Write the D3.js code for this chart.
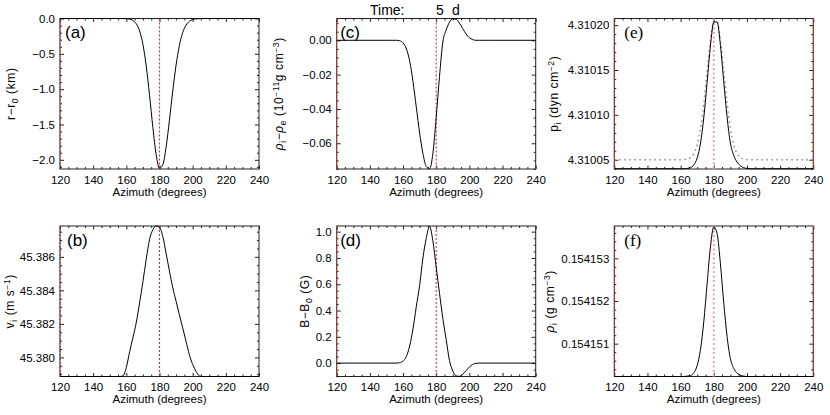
<!DOCTYPE html>
<html><head><meta charset="utf-8">
<script src="https://cdn.jsdelivr.net/npm/d3@7"></script>
<style>
body{margin:0;background:#fff}
text{font-family:"Liberation Sans",Arial,sans-serif;fill:#000}
</style>
</head><body>
<svg id="chart" width="830" height="415"></svg>
<script>
// ---- data ----
const azimuth = [120,150,156,158,160,162,164,166,168,170,172,174,176,178,180,182,184,186,188,190,192,194,196,198,200,202,204,206,208,212,240];
// (a) r - r0 (km)
const radiusChange = [0,0,0,-0.001,-0.003,-0.009,-0.028,-0.075,-0.177,-0.366,-0.673,-1.086,-1.542,-1.928,-2.12,-2.069,-1.817,-1.438,-1.025,-0.658,-0.381,-0.199,-0.094,-0.040,-0.015,-0.005,-0.002,0,0,0,0];
// (b) v_i (m/s)
const velocity = [45.37886,45.37886,45.37886,45.37890,45.37940,45.38034,45.38119,45.38209,45.38326,45.38452,45.38586,45.38704,45.38762,45.38784,45.38776,45.38722,45.38620,45.38515,45.38416,45.38335,45.38254,45.38176,45.38096,45.38016,45.37958,45.37917,45.37890,45.37886,45.37886,45.37886,45.37886];
// (c) rho_i - rho_e (1e-11 g cm^-3)
const densityDiff = [0,0,0,-0.0003,-0.0015,-0.005,-0.012,-0.024,-0.039,-0.054,-0.066,-0.0735,-0.0748,-0.066,-0.045,-0.021,-0.001,0.006,0.0105,0.0125,0.0123,0.0100,0.0068,0.0037,0.0015,0.0004,0,0,0,0,0];
// (d) B - B0 (G)
const fieldChange = [0,0,0,0.003,0.015,0.05,0.13,0.26,0.43,0.59,0.80,0.95,1.04,0.93,0.73,0.53,0.34,0.18,0.02,-0.06,-0.097,-0.101,-0.085,-0.058,-0.030,-0.010,-0.002,0,0,0,0];
// (e) p_i (dyn cm^-2), solid and dotted reference
const pressure = [4.31004,4.31004,4.31004,4.31004,4.31004,4.31004,4.3100403,4.3100413,4.3100443,4.3100521,4.3100687,4.3100976,4.3101370,4.3101774,4.3102035,4.3102035,4.3101774,4.3101370,4.3100976,4.3100687,4.310055,4.3100475,4.3100433,4.3100412,4.3100403,4.31004,4.31004,4.31004,4.31004,4.31004,4.31004];
const pressureRef = [4.31005,4.31005,4.31005,4.31005,4.31005,4.3100502,4.3100508,4.3100524,4.3100569,4.3100668,4.3100851,4.3101134,4.3101489,4.3101830,4.3102042,4.3102042,4.3101830,4.3101489,4.3101134,4.3100851,4.3100668,4.3100569,4.3100524,4.3100508,4.3100502,4.31005,4.31005,4.31005,4.31005,4.31005,4.31005];
// (f) rho_i (g cm^-3)
const density = [0.15415023,0.15415023,0.15415023,0.15415023,0.15415023,0.15415023,0.15415024,0.15415025,0.15415032,0.15415049,0.15415087,0.15415153,0.15415242,0.15415328,0.15415374,0.15415358,0.15415287,0.15415196,0.15415117,0.15415065,0.15415042,0.15415031,0.15415026,0.15415024,0.15415023,0.15415023,0.15415023,0.15415023,0.15415023,0.15415023,0.15415023];

const xTicks = [120,140,160,180,200,220,240];
const ticksA = [0,-0.5,-1.0,-1.5,-2.0];
const ticksB = [45.380,45.382,45.384,45.386];
const ticksC = [0,-0.02,-0.04,-0.06];
const ticksD = [0,0.2,0.4,0.6,0.8,1.0];
const ticksE = [4.31005,4.31010,4.31015,4.31020];
const ticksF = [0.154151,0.154152,0.154153];
const markerAzimuths = [120,180,240];
const titleWord = "Time:";
const titleNumber = "5";
const titleUnit = "d";
const xTitle = "Azimuth (degrees)";

// ---- layout ----
const colX = [60, 336.7, 614.3];
const rowY = [18.5, 226];
const W = 199, H = 150.5;

const panels = [
  {tag:"(a)", col:0,row:0, vals:radiusChange, domain:[-2.13,0], ticks:ticksA, fmt:".1f", minor:0.1,
   label:[["r−r"],["0","sub"],[" (km)"]], labelX:15, tagDx:5, serif:false, faint:false},
  {tag:"(b)", col:0,row:1, vals:velocity, domain:[45.37886,45.38784], ticks:ticksB, fmt:".3f", minor:0.0005,
   label:[["v"],["i","sub"],[" (m s"],["−1","sup"],[")"]], labelX:14, tagDx:7, serif:false, faint:false},
  {tag:"(c)", col:1,row:0, vals:densityDiff, domain:[-0.075,0.0127], ticks:ticksC, fmt:".2f", minor:0.005,
   label:[["ρ","it"],["i","sub"],["−"],["ρ","it"],["e","sub"],[" (10"],["−11","sup"],["g cm"],["−3","sup"],[")"]], labelX:283, tagDx:3.5, serif:false, faint:false},
  {tag:"(d)", col:1,row:1, vals:fieldChange, domain:[-0.102,1.043], ticks:ticksD, fmt:".1f", minor:0.05,
   label:[["B−B"],["0","sub"],[" (G)"]], labelX:308.5, tagDx:3.5, serif:false, faint:false},
  {tag:"(e)", col:2,row:0, vals:pressure, ref:pressureRef, domain:[4.3100397,4.3102074], ticks:ticksE, fmt:".5f", minor:0.00001,
   label:[["p"],["i","sub"],[" (dyn cm"],["−2","sup"],[")"]], labelX:558, tagDx:10, serif:true, faint:true},
  {tag:"(f)", col:2,row:1, vals:density, domain:[0.15415023,0.15415376], ticks:ticksF, fmt:".6f", minor:0.0000002,
   label:[["ρ","it"],["i","sub"],[" (g cm"],["−3","sup"],[")"]], labelX:554, tagDx:10, serif:true, faint:true}
];

const svg = d3.select("#chart");
svg.append("rect").attr("width",830).attr("height",415).attr("fill","#fff");
const defs = svg.append("defs");

function minorValues(domain, step, majors){
  const lo = Math.min(domain[0],domain[1]), hi = Math.max(domain[0],domain[1]);
  const out = [];
  for(let k=Math.ceil(lo/step-1e-6); k<=Math.floor(hi/step+1e-6); k++){
    const v = k*step;
    if(!majors.some(m=>Math.abs(m-v)<step*0.01)) out.push(v);
  }
  return out;
}

panels.forEach((p,i)=>{
  const x0 = colX[p.col], y0 = rowY[p.row];
  const x = d3.scaleLinear().domain([120,240]).range([x0, x0+W]);
  const y = d3.scaleLinear().domain(p.domain).range([y0+H, y0]);
  const g = svg.append("g");
  defs.append("clipPath").attr("id","clip"+i).append("rect")
    .attr("x",x0).attr("y",y0-1).attr("width",W).attr("height",H+2);

  // box
  g.append("rect").attr("x",x0).attr("y",y0).attr("width",W).attr("height",H)
    .attr("fill","none").attr("stroke","#222").attr("stroke-width",1);

  // axes (inward ticks)
  const xMinor = minorValues([120,240],5,xTicks);
  const yMinor = minorValues(p.domain,p.minor,p.ticks);
  const styleAxis = sel => { sel.select(".domain").remove(); sel.selectAll(".tick line").attr("stroke","#222"); };

  g.append("g").attr("transform",`translate(0,${y0+H})`)
    .call(d3.axisBottom(x).tickValues(xTicks).tickSize(-3.5).tickPadding(6.5).tickFormat(d3.format("d")))
    .call(styleAxis)
    .call(s=>s.selectAll("text").attr("font-size",11.5).attr("font-family","Liberation Sans, Arial, sans-serif"));
  g.append("g").attr("transform",`translate(0,${y0+H})`)
    .call(d3.axisBottom(x).tickValues(xMinor).tickSize(-2).tickFormat("")).call(styleAxis);
  g.append("g").attr("transform",`translate(0,${y0})`)
    .call(d3.axisTop(x).tickValues(xTicks).tickSize(-3.5).tickFormat("")).call(styleAxis);
  g.append("g").attr("transform",`translate(0,${y0})`)
    .call(d3.axisTop(x).tickValues(xMinor).tickSize(-2).tickFormat("")).call(styleAxis);

  g.append("g").attr("transform",`translate(${x0},0)`)
    .call(d3.axisLeft(y).tickValues(p.ticks).tickSize(-4).tickPadding(5).tickFormat(d3.format(p.fmt)))
    .call(styleAxis)
    .call(s=>s.selectAll("text").attr("font-size",11.5).attr("font-family","Liberation Sans, Arial, sans-serif"));
  g.append("g").attr("transform",`translate(${x0},0)`)
    .call(d3.axisLeft(y).tickValues(yMinor).tickSize(-2).tickFormat("")).call(styleAxis);
  g.append("g").attr("transform",`translate(${x0+W},0)`)
    .call(d3.axisRight(y).tickValues(p.ticks).tickSize(-4).tickFormat("")).call(styleAxis);
  g.append("g").attr("transform",`translate(${x0+W},0)`)
    .call(d3.axisRight(y).tickValues(yMinor).tickSize(-2).tickFormat("")).call(styleAxis);

  // red dotted reference lines
  const marks = p.faint ? markerAzimuths : markerAzimuths.slice(0,2);
  g.selectAll("line.mark").data(marks).enter().append("line")
    .attr("x1",d=>x(d)).attr("x2",d=>x(d)).attr("y1",y0).attr("y2",y0+H)
    .attr("stroke", d => (p.faint && d===180) ? "#f2a0a0" : "#e0302c")
    .attr("stroke-width", d => (p.faint && d===180) ? 2 : 1.1)
    .attr("stroke-dasharray", d => (p.faint && d===180) ? "2,2.5" : "2,2");

  // curves
  const line = d3.line().x((d,j)=>x(azimuth[j])).y(d=>y(d)).curve(d3.curveMonotoneX);
  const cg = g.append("g").attr("clip-path",`url(#clip${i})`);
  if(p.ref){
    cg.append("path").datum(p.ref).attr("d",line).attr("fill","none")
      .attr("stroke","#8a8a8a").attr("stroke-width",1.5).attr("stroke-dasharray","1.5,3.5");
  }
  cg.append("path").datum(p.vals).attr("d",line).attr("fill","none")
    .attr("stroke","#000").attr("stroke-width",1);

  // panel tag
  g.append("text").attr("x",x0+p.tagDx).attr("y",y0+19.5)
    .attr("font-size",17)
    .style("font-family", p.serif ? "'Liberation Serif','Times New Roman',serif" : "'Liberation Sans',Arial,sans-serif")
    .text(p.tag);

  // x title
  g.append("text").attr("x",x0+W/2).attr("y",y0+H+26.5).attr("text-anchor","middle")
    .attr("font-size",11.5).text(xTitle);

  // y title (rotated, rich text)
  const cy = y0+H/2;
  const t = g.append("text").attr("transform",`translate(${p.labelX},${cy}) rotate(-90)`)
    .attr("text-anchor","middle").attr("dy","0.35em").attr("font-size",12)
    .attr("letter-spacing",0.6);
  let shift = 0;
  p.label.forEach(([s,kind])=>{
    let target = 0, fs = 12, style = "normal";
    if(kind==="sub"){ target = 3; fs = 8.5; }
    if(kind==="sup"){ target = -4.5; fs = 8.5; }
    if(kind==="it"){ style = "italic"; }
    t.append("tspan").attr("font-size",fs).attr("font-style",style)
      .attr("dy", target-shift).text(s);
    shift = target;
  });
});

// title
svg.append("text").attr("x",370).attr("y",15).attr("font-size",14).text(titleWord);
svg.append("text").attr("x",436).attr("y",15).attr("font-size",14).text(titleNumber);
svg.append("text").attr("x",452).attr("y",15).attr("font-size",14).text(titleUnit);
</script>
</body></html>
